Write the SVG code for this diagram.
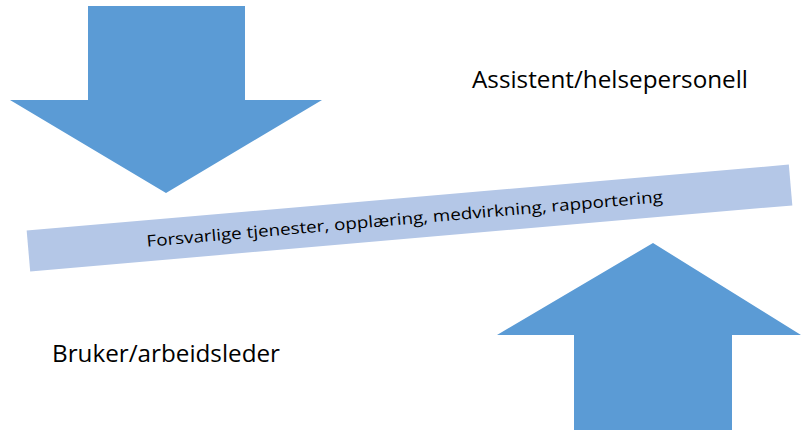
<svg xmlns="http://www.w3.org/2000/svg" width="801" height="432" viewBox="0 0 801 432">
<style>
.arrow{fill:#5b9bd5}
.bar{fill:#b4c7e7}
.lbl{font-family:"Open Sans","Liberation Sans",sans-serif;fill:#000}
</style>
<rect width="801" height="432" fill="#fff"/>
<g id="arrow-down">
<polygon class="arrow" points="88,6 245,6 245,100 322,100 166,193 10,100 88,100"/>
</g>
<g id="arrow-up">
<polygon class="arrow" points="653,243 801,335 732,335 732,430 574,430 574,335 497,335"/>
</g>
<g id="bar">
<g transform="translate(409.5,218) rotate(-4.95)">
<rect class="bar" x="-382.5" y="-20.5" width="765" height="41"/>
<text class="lbl" x="-5" y="6" font-size="16" text-anchor="middle" textLength="518" lengthAdjust="spacingAndGlyphs">Forsvarlige tjenester, opplæring, medvirkning, rapportering</text>
</g>
</g>
<g id="label-assistent">
<text class="lbl" x="472" y="88" font-size="23" textLength="276" lengthAdjust="spacingAndGlyphs">Assistent/helsepersonell</text>
</g>
<g id="label-bruker">
<text class="lbl" x="52" y="362" font-size="23" textLength="228" lengthAdjust="spacingAndGlyphs">Bruker/arbeidsleder</text>
</g>
<g id="connectors"/>
</svg>
